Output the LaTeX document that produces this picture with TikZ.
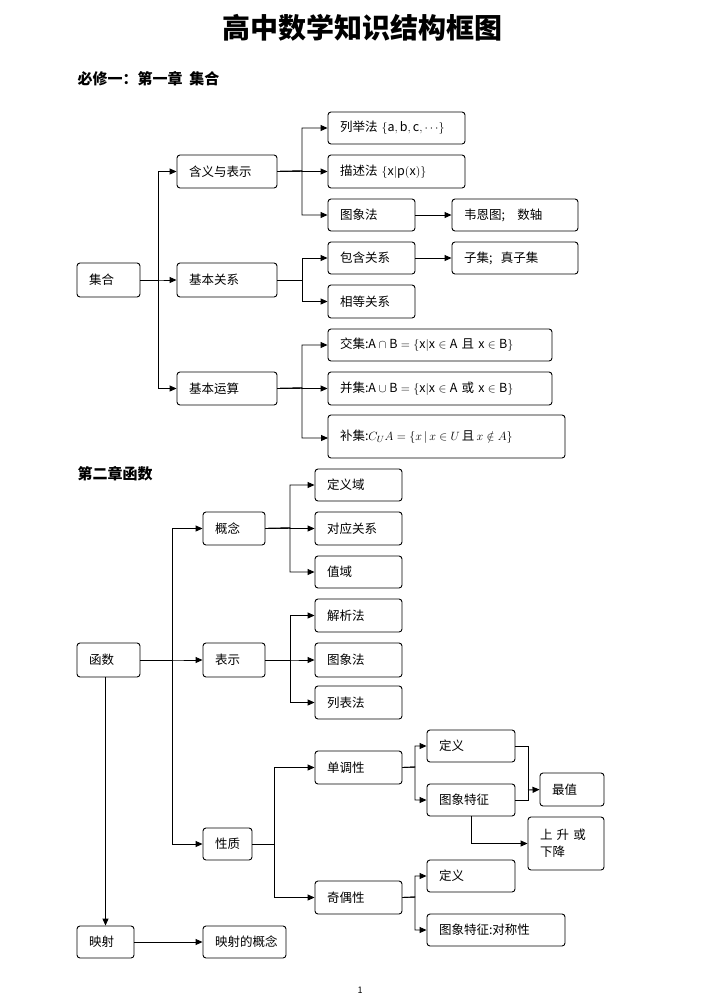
\documentclass[tikz,border=0pt]{standalone}
\usepackage{fontspec}
\setmainfont{Noto Sans CJK SC}
\usetikzlibrary{arrows.meta}
\newcommand{\bx}[6]{\pgfmathsetmacro\bw{#4-#2}\pgfmathsetmacro\bh{#5-#3}%
\node[box,minimum width=\bw pt,minimum height=\bh pt,text width=\bw pt-24pt] (#1) at ({(#2+#4)/2},{(#3+#5)/2}) {#6};}
\begin{document}
\begin{tikzpicture}[x=1pt,y=-1pt,
 box/.style={draw,line width=0.9pt,rounded corners=3pt,align=left,inner xsep=12pt,inner ysep=0pt,font=\fontsize{12.5}{17}\selectfont},
 arr/.style={line width=0.9pt,-{Triangle[length=7pt,width=6pt]}},
 ln/.style={line width=0.9pt}]
\useasboundingbox (0,0) rectangle (720,1002);
\node[font=\fontsize{28}{33}\selectfont\bfseries] (title) at (362,28) {高中数学知识结构框图};
\node[anchor=west,font=\fontsize{15}{18}\selectfont\bfseries] (s1) at (74,79) {必修一：第一章\ \ 集合};
\node[anchor=west,font=\fontsize{15}{18}\selectfont\bfseries] (s2) at (74,474) {第二章函数};
\node[font=\fontsize{9}{11}\selectfont] (pg) at (360,990) {1};
% section 1
\bx{jihe}{77}{263}{140}{297}{集合}
\bx{hanyi}{177}{155}{277}{188}{含义与表示}
\bx{guanxi}{177}{263}{277}{297}{基本关系}
\bx{yunsuan}{177}{372}{277}{405}{基本运算}
\bx{lieju}{328}{112}{465}{144}{列举法\ $\{\mathrm{a,b,c,}\cdots\}$}
\bx{miaoshu}{328}{155}{465}{188}{描述法\ $\{\mathrm{x|p(x)}\}$}
\bx{tuxiang}{328}{199}{415}{231}{图象法}
\bx{weien}{452}{199}{578}{231}{韦恩图;\quad 数轴}
\bx{baohan}{328}{242}{415}{274}{包含关系}
\bx{ziji}{452}{242}{578}{274}{子集;\ \ 真子集}
\bx{xiangdeng}{328}{285}{415}{318}{相等关系}
\bx{jiao}{328}{329}{552}{361}{交集:$\mathrm{A\cap B=\{x|x\in A}$ 且 $\mathrm{x\in B\}}$}
\bx{bing}{328}{372}{552}{405}{并集:$\mathrm{A\cup B=\{x|x\in A}$ 或 $\mathrm{x\in B\}}$}
\bx{bu}{328}{415}{565}{458}{\raisebox{-4pt}{补集:$C_U A=\{x\,|\,x\in U$\,且\,$x\notin A\}$}}
\foreach \t in {hanyi,guanxi,yunsuan} \draw[arr] (jihe.east) -- (158,280) |- (\t.west);
\foreach \t in {lieju,miaoshu,tuxiang} \draw[arr] (hanyi.east) -- (302,171) |- (\t.west);
\foreach \t in {baohan,xiangdeng} \draw[arr] (guanxi.east) -- (302,280) |- (\t.west);
\foreach \t in {jiao,bing} \draw[arr] (yunsuan.east) -- (302,388) |- (\t.west);
\draw[arr] (yunsuan.east) -- (302,388) |- (328,438);
\draw[arr] (tuxiang) -- (weien);
\draw[arr] (baohan) -- (ziji);
% section 2
\bx{hanshu}{77}{643}{140}{677}{函数}
\bx{gainian}{203}{512}{265}{545}{概念}
\bx{biaoshi}{203}{643}{265}{677}{表示}
\bx{xingzhi}{203}{828}{252}{860}{性质}
\bx{dingyiyu}{315}{469}{402}{501}{定义域}
\bx{duiying}{315}{512}{402}{545}{对应关系}
\bx{zhiyu}{315}{556}{402}{588}{值域}
\bx{jiexi}{315}{599}{402}{632}{解析法}
\bx{tux2}{315}{643}{402}{677}{图象法}
\bx{liebiao}{315}{686}{402}{719}{列表法}
\bx{dandiao}{315}{751}{402}{784}{单调性}
\bx{jiou}{315}{881}{402}{914}{奇偶性}
\bx{dy1}{427}{730}{515}{762}{定义}
\bx{tztz}{427}{784}{515}{816}{图象特征}
\bx{zuizhi}{540}{773}{604}{806}{最值}
\bx{shang}{528}{817}{604}{870}{上\ 升\ 或\\下降}
\bx{dy2}{427}{860}{515}{892}{定义}
\bx{dcx}{427}{914}{565}{946}{图象特征:对称性}
\bx{yingshe}{77}{926}{134}{958}{映射}
\bx{ysgn}{203}{926}{286}{958}{映射的概念}
\foreach \t in {gainian,biaoshi,xingzhi} \draw[arr] (hanshu.east) -- (172,660) |- (\t.west);
\foreach \t in {dingyiyu,duiying,zhiyu} \draw[arr] (gainian.east) -- (290,528) |- (\t.west);
\foreach \t in {jiexi,tux2,liebiao} \draw[arr] (biaoshi.east) -- (290,660) |- (\t.west);
\foreach \t in {dandiao,jiou} \draw[arr] (xingzhi.east) -- (274,844) |- (\t.west);
\foreach \t in {dy1,tztz} \draw[arr] (dandiao.east) -- (415,767) |- (\t.west);
\foreach \t in {dy2,dcx} \draw[arr] (jiou.east) -- (415,897) |- (\t.west);
\draw[ln] (dy1.east) -| (528,790);
\draw[ln] (tztz.east) -| (528,790);
\draw[arr] (528,790) -- (zuizhi.west);
\draw[arr] (tztz.south) |- (shang.west);
\draw[arr] (hanshu.south -| yingshe.north) -- (yingshe.north);
\draw[arr] (yingshe) -- (ysgn);
\end{tikzpicture}
\end{document}
